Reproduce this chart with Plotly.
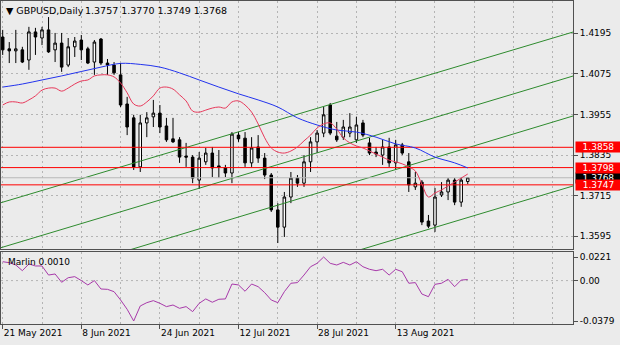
import plotly.graph_objects as go

# ---------------- data ----------------
bar_index = list(range(72))
opens = [1.4184, 1.4149, 1.4143, 1.4146, 1.4116, 1.4199, 1.4181, 1.4205, 1.4146, 1.4166,
         1.4101, 1.4155, 1.4175, 1.4149, 1.4110, 1.4178, 1.4107, 1.4101, 1.4072, 1.3986,
         1.3945, 1.3800, 1.3930, 1.3948, 1.3959, 1.3921, 1.3883, 1.3880, 1.3832, 1.3829,
         1.3761, 1.3815, 1.3841, 1.3803, 1.3797, 1.3782, 1.3894, 1.3885, 1.3812, 1.3859,
         1.3826, 1.3776, 1.3673, 1.3622, 1.3711, 1.3767, 1.3752, 1.3815, 1.3874, 1.3900,
         1.3983, 1.3891, 1.3888, 1.3900, 1.3880, 1.3930, 1.3871, 1.3844, 1.3835, 1.3859,
         1.3812, 1.3865, 1.3815, 1.3741, 1.3755, 1.3640, 1.3628, 1.3717, 1.3726, 1.3761,
         1.3696, 1.3757]
highs = [1.4205, 1.4169, 1.4205, 1.4155, 1.4214, 1.4211, 1.4214, 1.4243, 1.4196, 1.4196,
         1.4181, 1.4184, 1.4190, 1.4155, 1.4175, 1.4181, 1.4119, 1.4110, 1.4107, 1.4007,
         1.3954, 1.3954, 1.3962, 1.3998, 1.3983, 1.3945, 1.3945, 1.3888, 1.3871, 1.3835,
         1.3844, 1.3856, 1.3859, 1.3850, 1.3806, 1.3903, 1.3903, 1.3903, 1.3888, 1.3894,
         1.3841, 1.3782, 1.3693, 1.3726, 1.3785, 1.3776, 1.3835, 1.3888, 1.3909, 1.3977,
         1.3989, 1.3933, 1.3939, 1.3959, 1.3948, 1.3939, 1.3886, 1.3859, 1.3880, 1.3886,
         1.3880, 1.3871, 1.3841, 1.3785, 1.3761, 1.3658, 1.3738, 1.3755, 1.3767, 1.3767,
         1.3770, 1.3770]
lows = [1.4131, 1.4107, 1.4107, 1.4107, 1.4087, 1.4131, 1.4160, 1.4137, 1.4110, 1.4081,
        1.4095, 1.4125, 1.4116, 1.4104, 1.4072, 1.4101, 1.4072, 1.4072, 1.3977, 1.3894,
        1.3791, 1.3785, 1.3888, 1.3918, 1.3900, 1.3874, 1.3871, 1.3812, 1.3800, 1.3752,
        1.3735, 1.3806, 1.3770, 1.3768, 1.3770, 1.3752, 1.3874, 1.3800, 1.3800, 1.3812,
        1.3764, 1.3667, 1.3575, 1.3593, 1.3693, 1.3741, 1.3741, 1.3785, 1.3841, 1.3888,
        1.3894, 1.3874, 1.3880, 1.3888, 1.3871, 1.3888, 1.3835, 1.3829, 1.3806, 1.3800,
        1.3791, 1.3835, 1.3726, 1.3732, 1.3628, 1.3619, 1.3608, 1.3711, 1.3702, 1.3687,
        1.3682, 1.3749]
closes = [1.4146, 1.4143, 1.4149, 1.4110, 1.4199, 1.4184, 1.4205, 1.4140, 1.4166, 1.4095,
          1.4155, 1.4172, 1.4146, 1.4107, 1.4169, 1.4107, 1.4101, 1.4078, 1.3983, 1.3918,
          1.3800, 1.3930, 1.3945, 1.3959, 1.3918, 1.3880, 1.3874, 1.3829, 1.3829, 1.3767,
          1.3826, 1.3841, 1.3797, 1.3800, 1.3782, 1.3897, 1.3883, 1.3812, 1.3856, 1.3826,
          1.3776, 1.3673, 1.3622, 1.3711, 1.3767, 1.3752, 1.3815, 1.3874, 1.3900, 1.3954,
          1.3900, 1.3880, 1.3918, 1.3918, 1.3924, 1.3894, 1.3841, 1.3838, 1.3859, 1.3812,
          1.3865, 1.3841, 1.3747, 1.3752, 1.3637, 1.3625, 1.3711, 1.3726, 1.3761, 1.3696,
          1.3761, 1.3768]

blue_idx = [0, 3, 6, 9, 12, 15, 18, 21, 24, 27, 30, 33, 36, 39, 42, 45, 48, 51, 54, 57,
            60, 63, 66, 69, 71]
blue_ma = [1.4036, 1.4045, 1.4057, 1.4069, 1.4082, 1.4095, 1.4106, 1.4103, 1.4095, 1.4078,
           1.4057, 1.4036, 1.4016, 1.3998, 1.3977, 1.3945, 1.3924, 1.3909, 1.3903, 1.3888,
           1.3868, 1.3856, 1.3829, 1.3812, 1.3797]
red_ma = [1.3983, 1.3992, 1.3992, 1.3989, 1.3998, 1.4010, 1.4027, 1.4033, 1.4033, 1.4024,
          1.4033, 1.4045, 1.4054, 1.4057, 1.4069, 1.4072, 1.4072, 1.4066, 1.4048, 1.4019,
          1.3986, 1.3980, 1.3992, 1.4010, 1.4033, 1.4036, 1.4030, 1.4013, 1.3995, 1.3965,
          1.3962, 1.3968, 1.3974, 1.3977, 1.3974, 1.3992, 1.3995, 1.3983, 1.3962, 1.3927,
          1.3886, 1.3856, 1.3844, 1.3841, 1.3847, 1.3859, 1.3877, 1.3894, 1.3915, 1.3927,
          1.3930, 1.3912, 1.3886, 1.3871, 1.3862, 1.3856, 1.3847, 1.3838, 1.3829, 1.3820,
          1.3815, 1.3809, 1.3800, 1.3788, 1.3749, 1.3711, 1.3723, 1.3732, 1.3744, 1.3755,
          1.3767, 1.3779]
marlin = [0.0177, 0.0168, 0.0146, 0.0093, 0.0156, 0.0137, 0.0137, 0.0052, 0.0062, -0.0016,
          0.0027, 0.0037, 0.0000, -0.0041, 0.0000, -0.0079, -0.0082, -0.0104, -0.0182, -0.0269,
          -0.0379, -0.0238, -0.0207, -0.0188, -0.0213, -0.0244, -0.0229, -0.0260, -0.0244, -0.0291,
          -0.0213, -0.0172, -0.0203, -0.0175, -0.0172, -0.0032, -0.0041, -0.0100, -0.0032, -0.0057,
          -0.0113, -0.0182, -0.0207, -0.0104, -0.0025, -0.0019, 0.0052, 0.0130, 0.0162, 0.0221,
          0.0162, 0.0146, 0.0171, 0.0146, 0.0177, 0.0130, 0.0106, 0.0093, 0.0106, 0.0052,
          0.0106, 0.0083, -0.0025, -0.0019, -0.0126, -0.0151, -0.0035, -0.0025, 0.0012, -0.0057,
          0.0005, 0.0010]

level_lines = [1.3858, 1.3798, 1.3747]
bid_price = 1.3768
channel_x = [(-1, 88), (-1, 88), (14.3, 88), (49.4, 88)]
channel_y = [(1.3690, 1.4204), (1.3557, 1.4074), (1.3525, 1.3956), (1.3525, 1.3749)]

price_ticks = [1.3595, 1.3715, 1.3835, 1.3955, 1.4075, 1.4195]
price_tick_text = ["1.3595", "1.3715", "1.3835", "1.3955", "1.4075", "1.4195"]
marlin_ticks = [0.0221, 0.0, -0.0379]
marlin_tick_text = ["0.0221", "0.00", "-0.0379"]
date_ticks = [0, 12, 24, 36, 48, 60]
date_labels = ["21 May 2021", "8 Jun 2021", "24 Jun 2021", "12 Jul 2021", "28 Jul 2021", "13 Aug 2021"]
grid_ticks = list(range(0, 88, 6))

symbol_text = "▼ GBPUSD,Daily"
ohlc_text = "1.3757 1.3770 1.3749 1.3768"
indicator_text = "Marlin 0.0010"

# ---------------- styles ----------------
FONT = "DejaVu Sans"
BG = "#ebebeb"
FRAME = "#505050"
GRID = "#b4b4b4"
GRID_DASH = "2px,3px"

fig = go.Figure()

fig.add_trace(go.Candlestick(
    x=bar_index, open=opens, high=highs, low=lows, close=closes,
    xaxis="x", yaxis="y",
    increasing=dict(line=dict(color="#000000", width=1), fillcolor="#ffffff"),
    decreasing=dict(line=dict(color="#000000", width=1), fillcolor="#000000"),
    whiskerwidth=0, showlegend=False, hoverinfo="skip"))

for (x0, x1), (y0, y1) in zip(channel_x, channel_y):
    fig.add_trace(go.Scatter(x=[x0, x1], y=[y0, y1], mode="lines",
                             line=dict(color="#2e8b2e", width=1),
                             xaxis="x", yaxis="y", showlegend=False, hoverinfo="skip"))

for lv in level_lines:
    fig.add_trace(go.Scatter(x=[-1, 88], y=[lv, lv], mode="lines",
                             line=dict(color="#ff0000", width=1),
                             xaxis="x", yaxis="y", showlegend=False, hoverinfo="skip"))

fig.add_trace(go.Scatter(x=[-1, 88], y=[bid_price, bid_price], mode="lines",
                         line=dict(color="#b8b8b8", width=1),
                         xaxis="x", yaxis="y", showlegend=False, hoverinfo="skip"))

fig.add_trace(go.Scatter(x=blue_idx, y=blue_ma, mode="lines", line=dict(color="#2233ee", width=1),
                         line_shape="spline", xaxis="x", yaxis="y", showlegend=False, hoverinfo="skip"))
fig.add_trace(go.Scatter(x=bar_index, y=red_ma, mode="lines", line=dict(color="#e8385a", width=1),
                         line_shape="spline", xaxis="x", yaxis="y", showlegend=False, hoverinfo="skip"))

fig.add_trace(go.Scatter(x=bar_index, y=marlin, mode="lines", line=dict(color="#a83aaa", width=1),
                         xaxis="x2", yaxis="y2", showlegend=False, hoverinfo="skip"))

axis_font = dict(family=FONT, size=9, color="#000000")

fig.update_layout(
    width=620, height=345,
    margin=dict(l=1, r=47, t=1, b=21),
    paper_bgcolor=BG, plot_bgcolor=BG,
    boxgap=0.45,
    showlegend=False,
    xaxis=dict(domain=[0, 1], anchor="y", range=[-0.26, 87.07],
               tickvals=grid_ticks, showticklabels=False, ticks="",
               showgrid=True, gridcolor=GRID, griddash=GRID_DASH, gridwidth=1,
               showline=True, mirror=True, linecolor=FRAME, linewidth=1,
               zeroline=False, rangeslider=dict(visible=False), fixedrange=True),
    yaxis=dict(domain=[0.2322, 1], anchor="x", range=[1.35574, 1.42904], side="right",
               tickvals=price_ticks, ticktext=price_tick_text, tickfont=axis_font,
               ticks="outside", ticklen=4, tickcolor=FRAME,
               showgrid=True, gridcolor=GRID, griddash=GRID_DASH,
               showline=True, mirror=True, linecolor=FRAME, linewidth=1, zeroline=False),
    xaxis2=dict(domain=[0, 1], anchor="y2", matches="x", range=[-0.26, 87.07],
                tickvals=date_ticks, ticktext=date_labels, tickfont=axis_font,
                ticklabelposition="outside right", ticks="outside", ticklen=4, tickcolor=FRAME,
                showgrid=True, gridcolor=GRID, griddash=GRID_DASH,
                minor=dict(tickvals=grid_ticks, showgrid=True, gridcolor=GRID,
                           griddash=GRID_DASH, ticks=""),
                showline=True, mirror=True, linecolor=FRAME, linewidth=1, zeroline=False),
    yaxis2=dict(domain=[0, 0.2229], anchor="x2", range=[-0.0407, 0.0268], side="right",
                tickvals=marlin_ticks, ticktext=marlin_tick_text, tickfont=axis_font,
                ticks="outside", ticklen=4, tickcolor=FRAME, showgrid=False,
                showline=True, mirror=True, linecolor=FRAME, linewidth=1, zeroline=False),
    shapes=[dict(type="line", xref="x2 domain", x0=0, x1=1, yref="y2", y0=0, y1=0,
                 line=dict(color=GRID, width=1, dash=GRID_DASH), layer="below")],
)

annotations = [
    dict(text=symbol_text, xref="paper", yref="paper", x=0.0052, y=0.972,
         xanchor="left", yanchor="middle", showarrow=False,
         font=dict(family=FONT, size=9.5, color="#000000")),
    dict(text=ohlc_text, xref="paper", yref="paper", x=0.1434, y=0.972,
         xanchor="left", yanchor="middle", showarrow=False,
         font=dict(family=FONT, size=9.5, color="#000000")),
    dict(text=indicator_text, xref="paper", yref="paper", x=0.0087, y=0.192,
         xanchor="left", yanchor="middle", showarrow=False,
         font=dict(family=FONT, size=9, color="#000000")),
    dict(text=f"{bid_price:.4f}", xref="paper", yref="y", x=1.0035, y=bid_price,
         xanchor="left", yanchor="middle", showarrow=False, bgcolor="#000000",
         width=45, height=10, borderpad=0, align="center",
         font=dict(family=FONT, size=9, color="#ffffff")),
]
for lv in level_lines:
    annotations.append(dict(text=f"{lv:.4f}", xref="paper", yref="y", x=1.0035, y=lv,
                            xanchor="left", yanchor="middle", showarrow=False,
                            bgcolor="#ff0000", width=45, height=10, borderpad=0, align="center",
                            font=dict(family=FONT, size=9, color="#ffffff")))
fig.update_layout(annotations=annotations)

fig.write_html("out.html")
